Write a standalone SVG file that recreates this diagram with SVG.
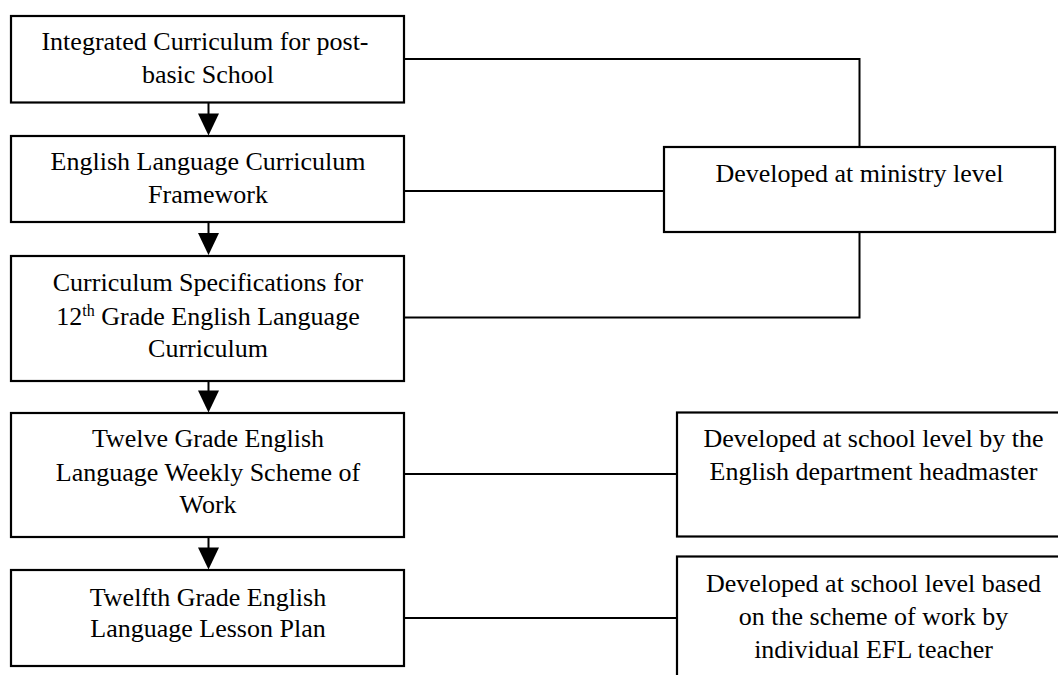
<svg xmlns="http://www.w3.org/2000/svg" width="1058" height="675" viewBox="0 0 1058 675">
<defs>
<style>
.box{fill:#fff;stroke:#000;stroke-width:2.2}
.t{font-family:"Liberation Serif","Times New Roman",serif;font-size:26px;fill:#000;text-anchor:middle}
.sup{font-size:16px}
.c{fill:none;stroke:#000;stroke-width:2}
.ah{fill:#000}
</style>
</defs>
<rect width="1058" height="675" fill="#fff"/>
<g id="connectors">
<path class="c" d="M404 59H859.5V147"/>
<path class="c" d="M404 191H664"/>
<path class="c" d="M859.5 232V317.5H404"/>
<path class="c" d="M404 474H677"/>
<path class="c" d="M404 618H677"/>
<path class="c" d="M208.5 102V114"/>
<path class="ah" d="M198 113.5H219L208.5 135.5Z"/>
<path class="c" d="M208.5 222V233"/>
<path class="ah" d="M198 233H219L208.5 255Z"/>
<path class="c" d="M208.5 381V391"/>
<path class="ah" d="M198 390.5H219L208.5 412.5Z"/>
<path class="c" d="M208.5 537V548"/>
<path class="ah" d="M198 547.5H219L208.5 569.5Z"/>
</g>
<g id="n1">
<rect class="box" x="11" y="16" width="393" height="86.5"/>
<text class="t" x="205" y="50">Integrated Curriculum for post-</text>
<text class="t" x="208" y="82.7">basic School</text>
</g>
<g id="n2">
<rect class="box" x="11" y="136" width="393" height="86"/>
<text class="t" x="208" y="170">English Language Curriculum</text>
<text class="t" x="208" y="203.3">Framework</text>
</g>
<g id="n3">
<rect class="box" x="11" y="256" width="393" height="125"/>
<text class="t" x="208" y="290.7">Curriculum Specifications for</text>
<text class="t" x="208" y="325">12<tspan class="sup" dy="-9">th</tspan><tspan dy="9"> Grade English Language</tspan></text>
<text class="t" x="208" y="357.3">Curriculum</text>
</g>
<g id="n4">
<rect class="box" x="11" y="413" width="393" height="124"/>
<text class="t" x="208" y="446.7">Twelve Grade English</text>
<text class="t" x="208" y="480.7">Language Weekly Scheme of</text>
<text class="t" x="208" y="512.7">Work</text>
</g>
<g id="n5">
<rect class="box" x="11" y="570" width="393" height="96"/>
<text class="t" x="208" y="605.7">Twelfth Grade English</text>
<text class="t" x="208" y="636.7">Language Lesson Plan</text>
</g>
<g id="m1">
<rect class="box" x="664" y="147" width="391" height="85"/>
<text class="t" x="859.5" y="181.7">Developed at ministry level</text>
</g>
<g id="s1">
<rect class="box" x="677" y="412.5" width="393" height="124"/>
<text class="t" x="873.5" y="446.7">Developed at school level by the</text>
<text class="t" x="873.5" y="480">English department headmaster</text>
</g>
<g id="s2">
<rect class="box" x="677" y="556.5" width="393" height="130"/>
<text class="t" x="873.5" y="591.7">Developed at school level based</text>
<text class="t" x="873.5" y="625">on the scheme of work by</text>
<text class="t" x="873.5" y="658.3">individual EFL teacher</text>
</g>
</svg>
